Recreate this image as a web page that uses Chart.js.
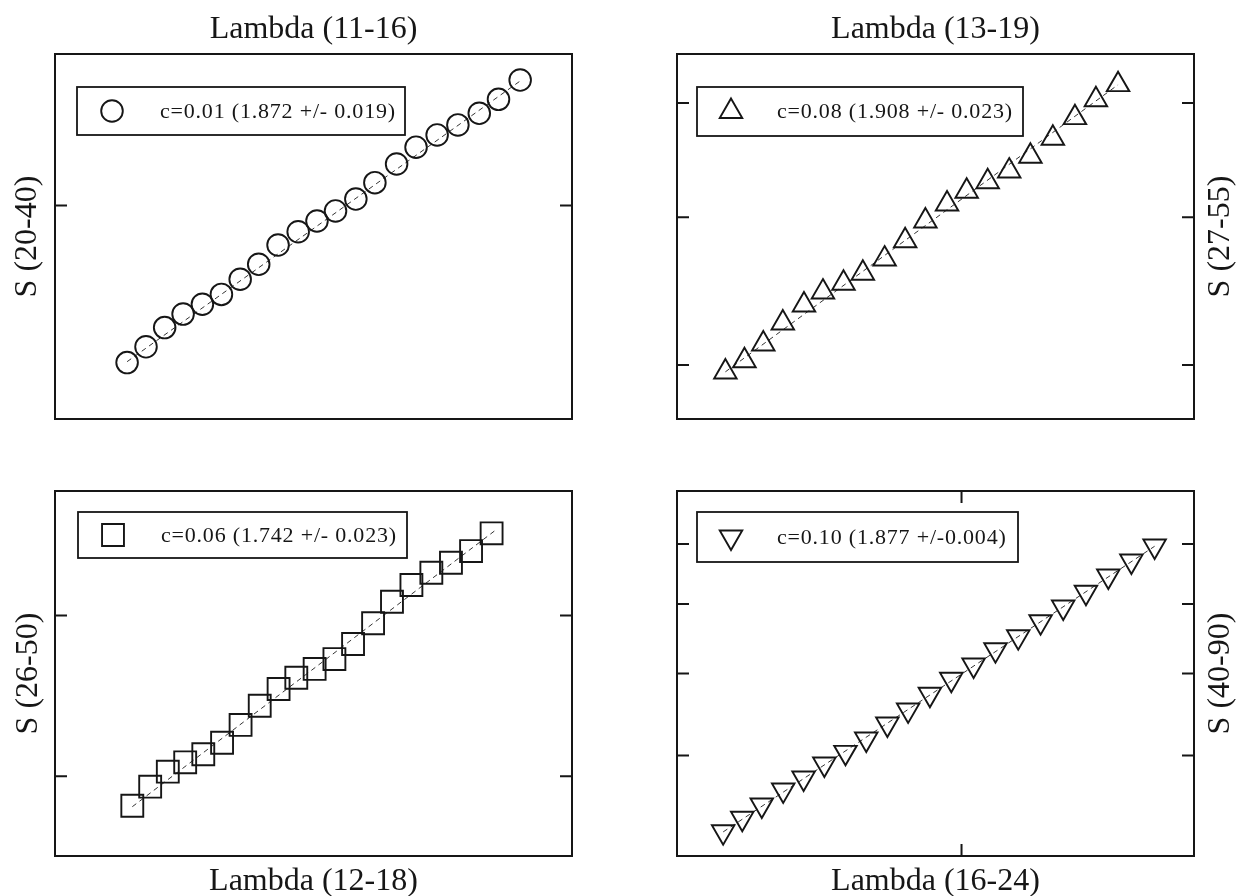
<!DOCTYPE html>
<html>
<head>
<meta charset="utf-8">
<title>Lambda vs S</title>
<script src="https://cdn.jsdelivr.net/npm/chart.js@4.4.1/dist/chart.umd.min.js"></script>
<style>
  html, body { margin: 0; padding: 0; background: #fff; }
  #wrap { position: relative; width: 1243px; height: 896px; overflow: hidden; }
  #wrap canvas { position: absolute; }
</style>
</head>
<body>
<div id="wrap">
  <canvas id="p1" width="621" height="448" style="left:0;top:0"></canvas>
  <canvas id="p2" width="622" height="448" style="left:621px;top:0"></canvas>
  <canvas id="p3" width="621" height="448" style="left:0;top:448px"></canvas>
  <canvas id="p4" width="622" height="448" style="left:621px;top:448px"></canvas>
</div>
<script>
// values (log-log panels)

// panel 1: c=0.01
const lam1 = [11.59, 11.75, 11.91, 12.07, 12.24, 12.41, 12.58, 12.75, 12.93, 13.12, 13.30,
              13.48, 13.68, 13.87, 14.09, 14.29, 14.51, 14.73, 14.96, 15.17, 15.41];
const s1   = [22.26, 22.94, 23.79, 24.41, 24.87, 25.34, 26.08, 26.83, 27.83, 28.54, 29.13,
              29.69, 30.37, 31.33, 32.46, 33.51, 34.30, 34.96, 35.74, 36.70, 38.07];
const fitLam1 = [11.59, 15.41];
const fitS1   = [22.3, 38.0];

// panel 2: c=0.08
const lam2 = [13.47, 13.66, 13.85, 14.05, 14.27, 14.47, 14.69, 14.90, 15.14, 15.37,
              15.60, 15.85, 16.08, 16.33, 16.59, 16.85, 17.13, 17.41, 17.68, 17.97];
const s2   = [29.59, 30.25, 31.25, 32.56, 33.72, 34.58, 35.18, 35.87, 36.88, 38.22,
              39.72, 41.06, 42.09, 42.88, 43.78, 45.06, 46.67, 48.58, 50.31, 51.81];
const fitLam2 = [13.47, 17.97];
const fitS2   = [29.6, 51.8];

// panel 3: c=0.06
const lam3 = [12.75, 12.93, 13.11, 13.29, 13.48, 13.68, 13.88, 14.09, 14.30, 14.50,
              14.71, 14.94, 15.16, 15.40, 15.63, 15.87, 16.12, 16.37, 16.63, 16.90];
const s3   = [28.45, 29.44, 30.24, 30.75, 31.20, 31.85, 32.88, 34.03, 35.07, 35.78,
              36.35, 37.00, 38.01, 39.45, 41.00, 42.25, 43.19, 43.97, 44.90, 46.35];
const fitLam3 = [12.75, 16.95];
const fitS3   = [28.4, 46.6];

// panel 4: c=0.10
const lam4 = [16.59, 16.84, 17.10, 17.39, 17.67, 17.96, 18.26, 18.56, 18.87, 19.18, 19.51,
              19.84, 20.19, 20.54, 20.91, 21.28, 21.66, 22.05, 22.44, 22.85, 23.27];
const s4   = [42.22, 43.50, 44.80, 46.32, 47.57, 49.07, 50.36, 51.87, 53.63, 55.33, 57.29,
              59.23, 61.14, 63.26, 65.11, 67.32, 69.55, 71.86, 74.51, 77.04, 79.65];
const fitLam4 = [16.59, 23.27];
const fitS4   = [42.2, 79.6];

// axis ranges and tick marks
const xRange1 = [11, 16], yRange1 = [20, 40], xTicks1 = [],   yTicks1 = [30];
const xRange2 = [13, 19], yRange2 = [27, 55], xTicks2 = [],   yTicks2 = [30, 40, 50];
const xRange3 = [12, 18], yRange3 = [26, 50], xTicks3 = [],   yTicks3 = [30, 40];
const xRange4 = [16, 24], yRange4 = [40, 90], xTicks4 = [20], yTicks4 = [50, 60, 70, 80];

const xTitles = ['Lambda (11-16)', 'Lambda (13-19)', 'Lambda (12-18)', 'Lambda (16-24)'];
const yTitles = ['S (20-40)', 'S (27-55)', 'S (26-50)', 'S (40-90)'];
const legendLabels = [
  'c=0.01 (1.872 +/- 0.019)',
  'c=0.08 (1.908 +/- 0.023)',
  'c=0.06 (1.742 +/- 0.023)',
  'c=0.10 (1.877 +/-0.004)'
];

const INK = '#161616';
const SERIF = '"Liberation Serif", "DejaVu Serif", serif';
const TICK = 12;

const panelDecor = {
  id: 'panelDecor',
  beforeDatasetsDraw(chart, args, o) {
    const { ctx, chartArea: a, scales: { x, y } } = chart;
    ctx.save();
    ctx.strokeStyle = INK;
    ctx.lineWidth = 2;
    ctx.strokeRect(a.left, a.top, a.right - a.left, a.bottom - a.top);
    ctx.beginPath();
    o.yTicks.forEach(v => {
      const py = y.getPixelForValue(v);
      ctx.moveTo(a.left, py);  ctx.lineTo(a.left + TICK, py);
      ctx.moveTo(a.right, py); ctx.lineTo(a.right - TICK, py);
    });
    o.xTicks.forEach(v => {
      const px = x.getPixelForValue(v);
      ctx.moveTo(px, a.top);    ctx.lineTo(px, a.top + TICK);
      ctx.moveTo(px, a.bottom); ctx.lineTo(px, a.bottom - TICK);
    });
    ctx.stroke();
    ctx.restore();
  },
  afterDraw(chart, args, o) {
    const { ctx, chartArea: a } = chart;
    const ds = chart.data.datasets[0];
    const L = o.legend;
    const bx = a.left + L.dx, by = a.top + L.dy;

    ctx.save();
    // legend box
    ctx.fillStyle = '#fff';
    ctx.fillRect(bx, by, L.w, L.h);
    ctx.strokeStyle = INK;
    ctx.lineWidth = 1.8;
    ctx.strokeRect(bx, by, L.w, L.h);

    // legend marker, drawn by Chart.js' own point routine
    ctx.fillStyle = 'rgba(0,0,0,0)';
    ctx.lineWidth = ds.pointBorderWidth;
    Chart.helpers.drawPoint(ctx, {
      pointStyle: ds.pointStyle,
      radius: ds.pointRadius,
      rotation: ds.pointRotation || 0,
      borderWidth: ds.pointBorderWidth
    }, bx + L.mx, by + L.h / 2);

    // legend text
    ctx.fillStyle = INK;
    ctx.font = '22px ' + SERIF;
    ctx.letterSpacing = '0.8px';
    ctx.textAlign = 'left';
    ctx.textBaseline = 'middle';
    ctx.fillText(ds.label, bx + L.tx, by + L.h / 2 + 1);
    ctx.letterSpacing = '0px';

    // axis titles
    ctx.font = '32px ' + SERIF;
    ctx.textAlign = 'center';
    ctx.textBaseline = 'alphabetic';
    ctx.fillText(o.xTitle, (a.left + a.right) / 2, o.xTitleY);
    ctx.translate(o.yTitleX, (a.top + a.bottom) / 2);
    ctx.rotate(-Math.PI / 2);
    ctx.fillText(o.yTitle, 0, 0);
    ctx.restore();
  }
};

function toPoints(xs, ys) {
  return xs.map((v, i) => ({ x: v, y: ys[i] }));
}

function makePanel(id, p) {
  const ctx = document.getElementById(id).getContext('2d');
  return new Chart(ctx, {
    type: 'scatter',
    data: {
      datasets: [
        {
          label: p.label,
          data: toPoints(p.xs, p.ys),
          pointStyle: p.style,
          pointRadius: p.radius,
          pointRotation: p.rotation || 0,
          pointBorderWidth: 1.9,
          pointBorderColor: INK,
          pointBackgroundColor: 'rgba(0,0,0,0)',
          pointHoverRadius: p.radius,
          clip: false,
          order: 1
        },
        {
          label: 'fit',
          data: toPoints(p.fitX, p.fitY),
          showLine: true,
          borderColor: '#333',
          borderWidth: 1,
          borderDash: [5, 4],
          pointRadius: 0,
          pointHoverRadius: 0,
          order: 2
        }
      ]
    },
    options: {
      responsive: false,
      animation: false,
      events: [],
      layout: { padding: p.pad },
      scales: {
        x: { type: 'logarithmic', min: p.xRange[0], max: p.xRange[1], display: false },
        y: { type: 'logarithmic', min: p.yRange[0], max: p.yRange[1], display: false }
      },
      plugins: {
        legend: { display: false },
        tooltip: { enabled: false },
        panelDecor: {
          xTicks: p.xTicks,
          yTicks: p.yTicks,
          xTitle: p.xTitle,
          xTitleY: p.xTitleY,
          yTitle: p.yTitle,
          yTitleX: p.yTitleX,
          legend: p.legend
        }
      }
    },
    plugins: [panelDecor]
  });
}

makePanel('p1', {
  label: legendLabels[0], xs: lam1, ys: s1, fitX: fitLam1, fitY: fitS1,
  style: 'circle', radius: 10.8,
  xRange: xRange1, yRange: yRange1, xTicks: xTicks1, yTicks: yTicks1,
  xTitle: xTitles[0], xTitleY: 38, yTitle: yTitles[0], yTitleX: 36,
  pad: { left: 55, top: 54, right: 49, bottom: 29 },
  legend: { dx: 22, dy: 33, w: 328, h: 48, mx: 35, tx: 83 }
});

makePanel('p2', {
  label: legendLabels[1], xs: lam2, ys: s2, fitX: fitLam2, fitY: fitS2,
  style: 'triangle', radius: 13,
  xRange: xRange2, yRange: yRange2, xTicks: xTicks2, yTicks: yTicks2,
  xTitle: xTitles[1], xTitleY: 38, yTitle: yTitles[1], yTitleX: 608,
  pad: { left: 56, top: 54, right: 49, bottom: 29 },
  legend: { dx: 20, dy: 33, w: 326, h: 49, mx: 34, tx: 80 }
});

makePanel('p3', {
  label: legendLabels[2], xs: lam3, ys: s3, fitX: fitLam3, fitY: fitS3,
  style: 'rect', radius: 15.5,
  xRange: xRange3, yRange: yRange3, xTicks: xTicks3, yTicks: yTicks3,
  xTitle: xTitles[2], xTitleY: 442, yTitle: yTitles[2], yTitleX: 37,
  pad: { left: 55, top: 43, right: 49, bottom: 40 },
  legend: { dx: 23, dy: 21, w: 329, h: 46, mx: 35, tx: 83 }
});

makePanel('p4', {
  label: legendLabels[3], xs: lam4, ys: s4, fitX: fitLam4, fitY: fitS4,
  style: 'triangle', radius: 13, rotation: 180,
  xRange: xRange4, yRange: yRange4, xTicks: xTicks4, yTicks: yTicks4,
  xTitle: xTitles[3], xTitleY: 442, yTitle: yTitles[3], yTitleX: 608,
  pad: { left: 56, top: 43, right: 49, bottom: 40 },
  legend: { dx: 20, dy: 21, w: 321, h: 50, mx: 34, tx: 80 }
});
</script>
</body>
</html>
